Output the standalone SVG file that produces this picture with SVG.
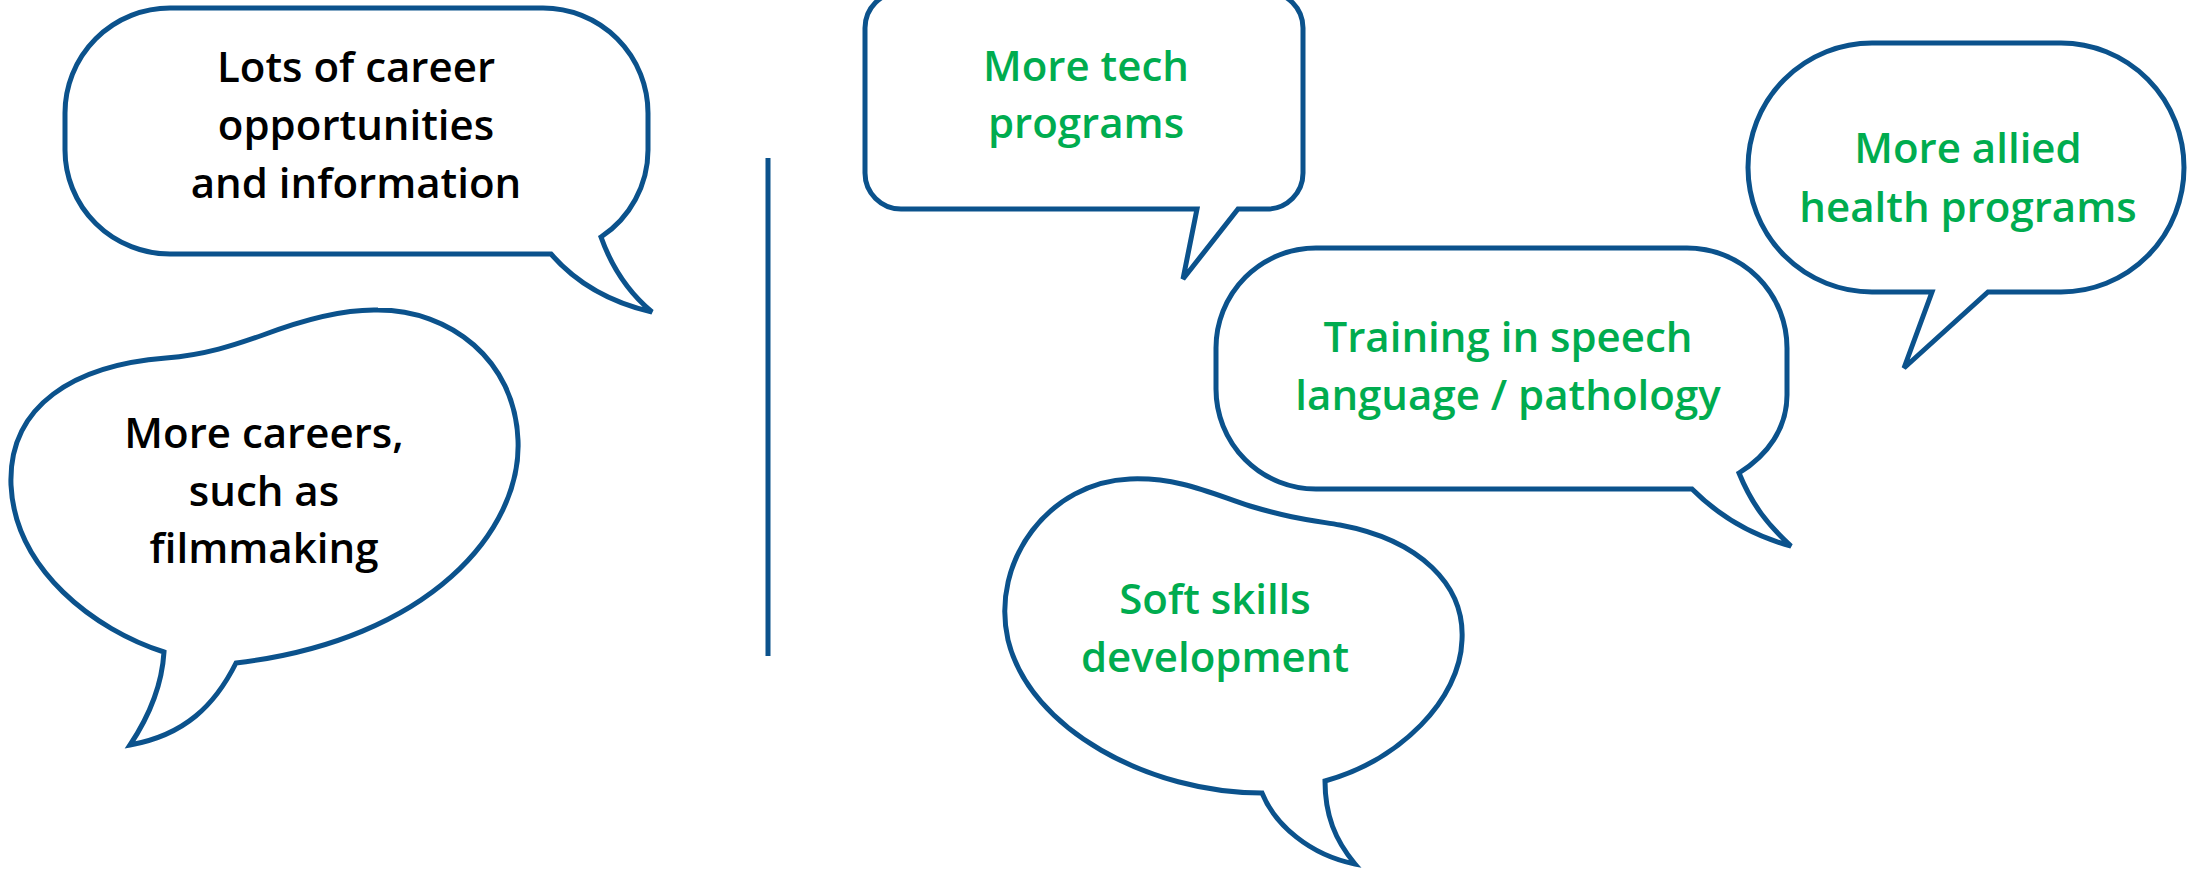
<svg xmlns="http://www.w3.org/2000/svg" width="2189" height="869" viewBox="0 0 2189 869">
<style>
.b{fill:#fff;stroke:#0b528c;stroke-width:5;stroke-linejoin:miter}
.t{font-family:"Open Sans","Liberation Sans",sans-serif;font-weight:600;font-size:42px;text-anchor:middle}
.k{fill:#000}
.g{fill:#00ac4f}
</style>
<rect width="2189" height="869" fill="#fff"/>
<g id="connectors">
<line x1="768" y1="158" x2="768" y2="656" stroke="#0b528c" stroke-width="5"/>
</g>
<g id="n1">
<path class="b" d="M170,8 H543 A105 105 0 0 1 648 113 V150 C648,185 630,218 601,237 C612,268 628,292 652,312 C613,303 578,285 551,254 H170 A105 104 0 0 1 65 150 V113 A105 105 0 0 1 170 8 Z"/>
<text class="t k" x="356" y="82">Lots of career</text>
<text class="t k" x="356" y="140">opportunities</text>
<text class="t k" x="356" y="198">and information</text>
</g>
<g id="n2">
<path class="b" d="M164,652 C95,630 15,570 11,485 C8,405 75,365 166,358 C205,355 235,345 263,335 C300,321 340,309 378,310 C450,310 515,360 518,440 C522,530 430,640 236,663 C215,705 185,735 130,745 C150,715 162,685 164,652 Z"/>
<text class="t k" x="264" y="448">More careers,</text>
<text class="t k" x="264" y="506">such as</text>
<text class="t k" x="264" y="563">filmmaking</text>
</g>
<g id="n3">
<path class="b" d="M901,-8 H1267 A36 36 0 0 1 1303 28 V173 A36 36 0 0 1 1267 209 H1238 L1183 279 L1197 209 H901 A36 36 0 0 1 865 173 V28 A36 36 0 0 1 901 -8 Z"/>
<text class="t g" x="1086" y="81">More tech</text>
<text class="t g" x="1086" y="138">programs</text>
</g>
<g id="n4">
<path class="b" d="M1316,248 H1687 A100 100 0 0 1 1787 348 V395 C1787,428 1768,455 1739,473 C1752,505 1768,525 1791,546 C1750,535 1718,515 1692,489 H1316 A100 100 0 0 1 1216 389 V348 A100 100 0 0 1 1316 248 Z"/>
<text class="t g" x="1508" y="352">Training in speech</text>
<text class="t g" x="1508" y="410">language / pathology</text>
</g>
<g id="n5">
<path class="b" d="M1262,793 C1150,793 1030,730 1008,640 C990,560 1050,482 1130,479 C1180,477 1215,495 1250,506 C1290,518 1310,520 1340,525 C1420,540 1465,585 1462,640 C1460,700 1400,760 1325,781 C1325,815 1335,840 1355,864 C1310,855 1275,825 1262,793 Z"/>
<text class="t g" x="1215" y="614">Soft skills</text>
<text class="t g" x="1215" y="672">development</text>
</g>
<g id="n6">
<path class="b" d="M1872,43 H2061 A123 124.5 0 0 1 2184 167.5 A123 124.5 0 0 1 2061 292 H1988 L1904 368 L1932 292 H1872 A124 124.5 0 0 1 1748 167.5 A124 124.5 0 0 1 1872 43 Z"/>
<text class="t g" x="1968" y="163">More allied</text>
<text class="t g" x="1968" y="222">health programs</text>
</g>
</svg>
